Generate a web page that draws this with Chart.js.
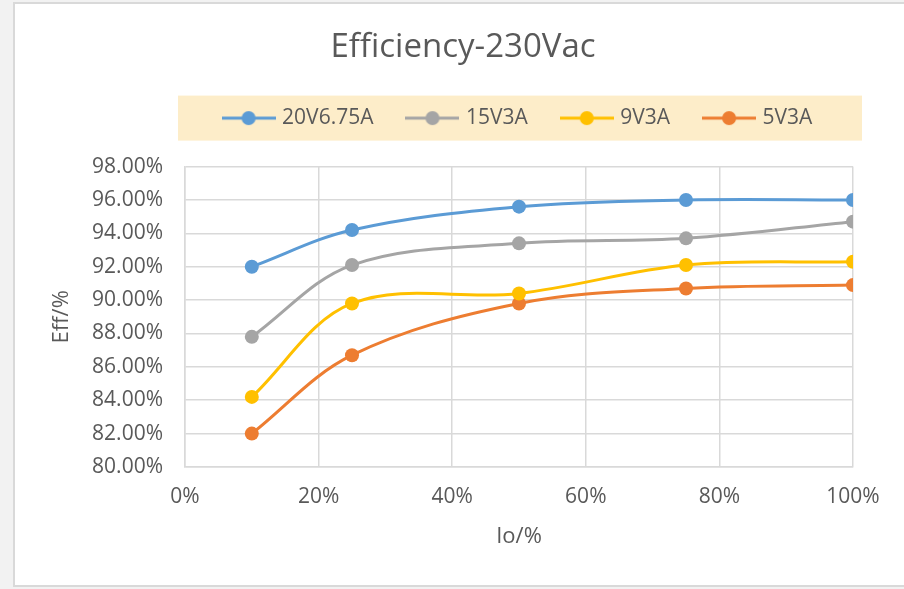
<!DOCTYPE html>
<html>
<head>
<meta charset="utf-8">
<script src="https://cdn.jsdelivr.net/npm/chart.js@4"></script>
<style>
  html, body { margin: 0; padding: 0; background: #f2f2f2; }
  #card { position: absolute; left: 13px; top: 2px; width: 900px; height: 581px;
          background: #fff; border: 2px solid #d9d9d9; }
  #efficiency_chart { position: absolute; left: 0; top: 0; }
</style>
</head>
<body>
<div id="card"></div>
<canvas id="efficiency_chart" width="904" height="589"></canvas>
<script>
// load points in % of rated current
const loadPct = [10, 25, 50, 75, 100];

// efficiency in %
const eff20V675A = [92.0, 94.2, 95.6, 96.0, 96.0];
const eff15V3A   = [87.8, 92.1, 93.4, 93.7, 94.7];
const eff9V3A    = [84.2, 89.8, 90.4, 92.1, 92.3];
const eff5V3A    = [82.0, 86.7, 89.8, 90.7, 90.9];

const seriesNames = ['20V6.75A', '15V3A', '9V3A', '5V3A'];
const seriesColors = ['#5b9bd5', '#a5a5a5', '#ffc000', '#ed7d31'];

const textColor = '#595959';
const gridColor = '#d9d9d9';
const fontFamily = '"Open Sans", Lato, sans-serif';

function toPoints(values) {
    return values.map((v, i) => ({ x: loadPct[i], y: v }));
}

// legend marker: short line with a dot in the middle (like Excel)
function makeMarker(color) {
    const c = document.createElement('canvas');
    c.width = 54;
    c.height = 18;
    const ctx = c.getContext('2d');
    ctx.strokeStyle = color;
    ctx.lineWidth = 3;
    ctx.beginPath();
    ctx.moveTo(0, 9);
    ctx.lineTo(54, 9);
    ctx.stroke();
    ctx.fillStyle = color;
    ctx.beginPath();
    ctx.arc(27, 9, 7, 0, Math.PI * 2);
    ctx.fill();
    return c;
}
const markers = seriesColors.map(makeMarker);

const allSeries = [eff20V675A, eff15V3A, eff9V3A, eff5V3A];
const datasets = allSeries.map((vals, i) => ({
    label: seriesNames[i],
    data: toPoints(vals),
    borderColor: seriesColors[i],
    backgroundColor: seriesColors[i],
    borderWidth: 3,
    pointRadius: 7,
    pointHoverRadius: 7,
    pointBorderWidth: 0,
    tension: 0.35
}));

// beige band behind the legend
const legendBand = {
    id: 'legendBand',
    beforeDraw(chart) {
        const lg = chart.legend;
        const area = chart.chartArea;
        if (!lg || !lg.legendHitBoxes.length) return;
        const hb = lg.legendHitBoxes[0];
        const cy = hb.top + hb.height / 2;
        const ctx = chart.ctx;
        ctx.save();
        ctx.fillStyle = '#fdedc9';
        ctx.fillRect(area.left - 7, cy - 22.5, area.right - area.left + 16, 45);
        ctx.restore();
    }
};

const efficiency_chart = document.getElementById('efficiency_chart');

let chart = new Chart(efficiency_chart, {
    type: 'line',
    data: { datasets: datasets },
    plugins: [legendBand],
    options: {
        responsive: false,
        animation: false,
        layout: { padding: { left: 30, right: 8, top: 0, bottom: 20 } },
        plugins: {
            title: {
                display: true,
                text: 'Efficiency-230Vac',
                color: textColor,
                font: { family: fontFamily, size: 33, weight: 'normal' },
                padding: { top: 28, bottom: 4 }
            },
            legend: {
                fullSize: false,
                labels: {
                    color: textColor,
                    font: { family: fontFamily, size: 21 },
                    usePointStyle: true,
                    pointStyleWidth: 46,
                    padding: 36,
                    generateLabels: function(chart) {
                        const items = Chart.defaults.plugins.legend.labels.generateLabels(chart);
                        items.forEach((it, i) => { it.pointStyle = markers[i]; });
                        return items;
                    }
                }
            },
            tooltip: { enabled: false }
        },
        scales: {
            x: {
                type: 'linear',
                min: 0,
                max: 100,
                afterFit: function(scale) { scale.height = 102; },
                ticks: {
                    stepSize: 20,
                    autoSkip: false,
                    color: textColor,
                    padding: 17,
                    font: { family: fontFamily, size: 21 },
                    callback: function(v) { return v + '%'; }
                },
                grid: { color: gridColor, lineWidth: 1.5, drawTicks: false },
                border: { color: gridColor, width: 1.5 },
                title: {
                    display: true,
                    text: 'Io/%',
                    color: textColor,
                    font: { family: fontFamily, size: 22 },
                    padding: { top: 0, bottom: 19 }
                }
            },
            // empty top axis, only a gap between the legend and the plot
            x2: {
                type: 'linear',
                position: 'top',
                display: true,
                afterFit: function(scale) { scale.height = 28; },
                ticks: { display: false },
                grid: { display: false, drawTicks: false },
                border: { display: false }
            },
            y: {
                min: 80,
                max: 98,
                afterFit: function(scale) { scale.width = 155; },
                ticks: {
                    stepSize: 2,
                    autoSkip: false,
                    color: textColor,
                    padding: 22,
                    font: { family: fontFamily, size: 21 },
                    callback: function(v) { return v.toFixed(2) + '%'; }
                },
                grid: { color: gridColor, lineWidth: 1.5, drawTicks: false },
                border: { color: gridColor, width: 1.5 },
                title: {
                    display: true,
                    text: 'Eff/%',
                    color: textColor,
                    font: { family: fontFamily, size: 22 },
                    padding: { top: 19, bottom: 0 }
                }
            },
            // empty right-hand axis, only there to keep the title centred on the card
            y2: {
                position: 'right',
                display: true,
                afterFit: function(scale) { scale.width = 43; },
                ticks: { display: false },
                grid: { display: false, drawTicks: false },
                border: { display: false }
            }
        }
    }
});
</script>
</body>
</html>
